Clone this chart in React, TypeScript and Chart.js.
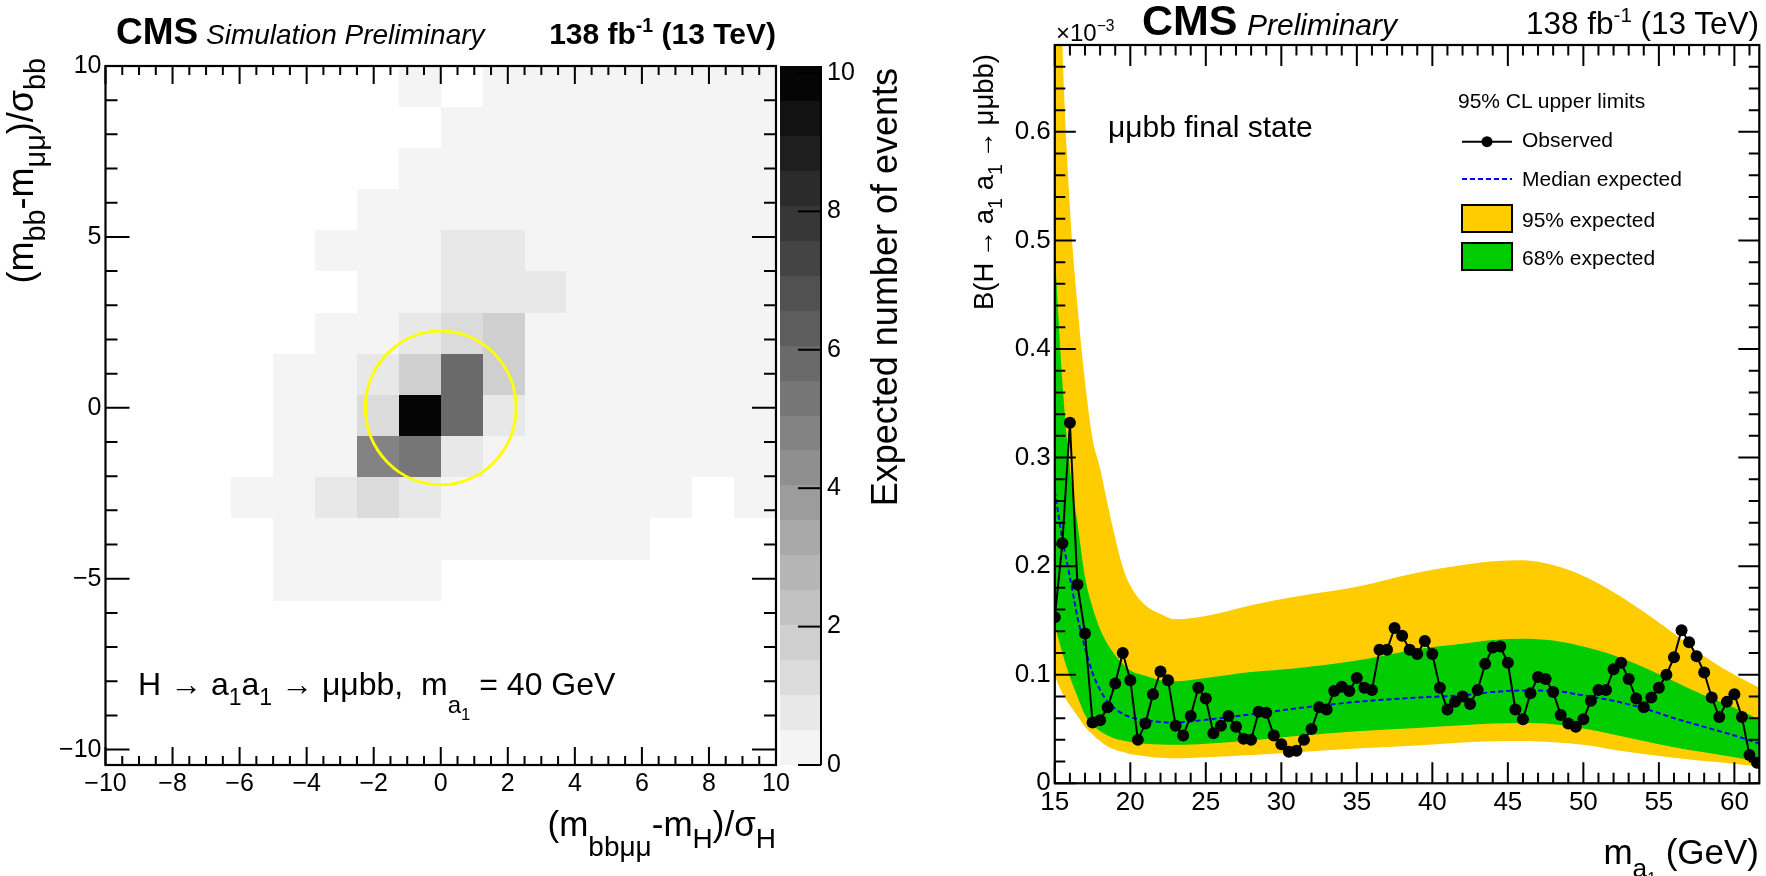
import React, { useEffect, useRef } from 'react';
import { Chart, registerables } from 'chart.js';

Chart.register(...registerables);

const FONT = '"Liberation Sans", Arial, Helvetica, sans-serif';

// ---------------- Left panel: expected events (2D histogram) ----------------
const xBinEdges = [-10, -8.75, -7.5, -6.25, -5, -3.75, -2.5, -1.25, 0, 1.25, 2.5, 3.75, 5, 6.25, 7.5, 8.75, 10];
const yBinEdges = [10, 8.8, 7.6, 6.39, 5.19, 3.99, 2.78, 1.58, 0.38, -0.83, -2.03, -3.23, -4.44, -5.64, -6.84, -8.05, -9.25, -10.45];
// rows from top (y = 10) to bottom, columns from x = -10 to x = 10
const expectedEvents = [
  [0, 0, 0, 0, 0, 0, 0, 0.25, 0, 0.25, 0.25, 0.25, 0.25, 0.25, 0.25, 0.25],
  [0, 0, 0, 0, 0, 0, 0, 0, 0.25, 0.25, 0.25, 0.25, 0.25, 0.25, 0.25, 0.25],
  [0, 0, 0, 0, 0, 0, 0, 0.25, 0.25, 0.25, 0.25, 0.25, 0.25, 0.25, 0.25, 0.25],
  [0, 0, 0, 0, 0, 0, 0.25, 0.25, 0.25, 0.25, 0.25, 0.25, 0.25, 0.25, 0.25, 0.25],
  [0, 0, 0, 0, 0, 0.25, 0.25, 0.25, 0.75, 0.75, 0.25, 0.25, 0.25, 0.25, 0.25, 0.25],
  [0, 0, 0, 0, 0, 0, 0.25, 0.25, 0.75, 0.75, 0.75, 0.25, 0.25, 0.25, 0.25, 0.25],
  [0, 0, 0, 0, 0, 0.25, 0.25, 0.75, 1.25, 1.75, 0.25, 0.25, 0.25, 0.25, 0.25, 0.25],
  [0, 0, 0, 0, 0.25, 0.25, 0.75, 1.75, 5.6, 1.75, 0.25, 0.25, 0.25, 0.25, 0.25, 0.25],
  [0, 0, 0, 0, 0.25, 0.25, 1.25, 9.9, 5.6, 0.75, 0.25, 0.25, 0.25, 0.25, 0.25, 0.25],
  [0, 0, 0, 0, 0.25, 0.25, 4.6, 5.1, 0.75, 0.25, 0.25, 0.25, 0.25, 0.25, 0.25, 0.25],
  [0, 0, 0, 0.25, 0.25, 0.75, 1.25, 0.75, 0.25, 0.25, 0.25, 0.25, 0.25, 0.25, 0, 0.25],
  [0, 0, 0, 0, 0.25, 0.25, 0.25, 0.25, 0.25, 0.25, 0.25, 0.25, 0.25, 0, 0, 0],
  [0, 0, 0, 0, 0.25, 0.25, 0.25, 0.25, 0, 0, 0, 0, 0, 0, 0, 0],
  [0, 0, 0, 0, 0, 0, 0, 0, 0, 0, 0, 0, 0, 0, 0, 0],
  [0, 0, 0, 0, 0, 0, 0, 0, 0, 0, 0, 0, 0, 0, 0, 0],
  [0, 0, 0, 0, 0, 0, 0, 0, 0, 0, 0, 0, 0, 0, 0, 0],
  [0, 0, 0, 0, 0, 0, 0, 0, 0, 0, 0, 0, 0, 0, 0, 0],
];
const leftXTicks = [-10, -8, -6, -4, -2, 0, 2, 4, 6, 8, 10];
const leftYTicks = [-10, -5, 0, 5, 10];
const zTicks = [0, 2, 4, 6, 8, 10];
const zMax = 10.1;
const signalCircleRadius = 2.25;
// grey palette levels (20 contours), light to dark
const grayLevels = [244, 232, 219, 207, 194, 181, 169, 156, 143, 131, 118, 106, 93, 81, 68, 55, 43, 30, 18, 5];

// ---------------- Right panel: 95% CL upper limits ----------------
const massPoints = [
  15, 15.5, 16, 16.5, 17, 17.5, 18, 18.5, 19, 19.5, 20, 20.5, 21, 21.5, 22, 22.5, 23, 23.5, 24, 24.5,
  25, 25.5, 26, 26.5, 27, 27.5, 28, 28.5, 29, 29.5, 30, 30.5, 31, 31.5, 32, 32.5, 33, 33.5, 34, 34.5,
  35, 35.5, 36, 36.5, 37, 37.5, 38, 38.5, 39, 39.5, 40, 40.5, 41, 41.5, 42, 42.5, 43, 43.5, 44, 44.5,
  45, 45.5, 46, 46.5, 47, 47.5, 48, 48.5, 49, 49.5, 50, 50.5, 51, 51.5, 52, 52.5, 53, 53.5, 54, 54.5,
  55, 55.5, 56, 56.5, 57, 57.5, 58, 58.5, 59, 59.5, 60, 60.5, 61, 61.5,
];
const observedLimit = [
  0.153, 0.221, 0.332, 0.183, 0.138, 0.056, 0.058, 0.070, 0.092, 0.120, 0.095, 0.040, 0.055, 0.082, 0.103, 0.095, 0.053, 0.044, 0.062, 0.088,
  0.078, 0.046, 0.053, 0.062, 0.052, 0.041, 0.040, 0.066, 0.065, 0.044, 0.036, 0.029, 0.030, 0.040, 0.050, 0.070, 0.068, 0.085, 0.089, 0.085,
  0.097, 0.088, 0.086, 0.123, 0.123, 0.143, 0.136, 0.123, 0.119, 0.131, 0.119, 0.088, 0.068, 0.075, 0.080, 0.073, 0.086, 0.110, 0.125, 0.126,
  0.111, 0.068, 0.059, 0.083, 0.098, 0.096, 0.084, 0.063, 0.055, 0.052, 0.059, 0.076, 0.086, 0.086, 0.105, 0.111, 0.096, 0.078, 0.070, 0.079,
  0.088, 0.100, 0.116, 0.141, 0.130, 0.117, 0.102, 0.079, 0.061, 0.075, 0.082, 0.061, 0.026, 0.019,
];
const bandMass = [15, 15.5, 16, 16.5, 17, 17.5, 18, 18.5, 19, 19.5, 20, 21, 22, 23, 25, 28, 31, 35, 39, 42, 44, 46, 48, 50, 52, 54, 56, 58, 60, 61.7];
const expected95Up = [0.95, 0.68, 0.53, 0.44, 0.37, 0.317, 0.29, 0.257, 0.226, 0.199, 0.182, 0.164, 0.156, 0.151, 0.154, 0.164, 0.172, 0.181, 0.194, 0.201, 0.2045, 0.2055, 0.201, 0.191, 0.176, 0.158, 0.138, 0.117, 0.1, 0.0877];
const expected68Up = [0.49, 0.37, 0.29, 0.24, 0.19, 0.162, 0.142, 0.128, 0.118, 0.11, 0.104, 0.099, 0.095, 0.094, 0.097, 0.1025, 0.106, 0.113, 0.1235, 0.1285, 0.132, 0.1332, 0.1315, 0.126, 0.118, 0.107, 0.094, 0.081, 0.0695, 0.0585];
const expectedMedian = [0.269, 0.225, 0.19, 0.153, 0.125, 0.1015, 0.086, 0.075, 0.0685, 0.064, 0.061, 0.058, 0.0565, 0.056, 0.0585, 0.0635, 0.069, 0.075, 0.079, 0.081, 0.084, 0.0855, 0.085, 0.081, 0.076, 0.069, 0.06, 0.052, 0.044, 0.0363];
const expected68Down = [0.146, 0.12, 0.098, 0.08, 0.063, 0.054, 0.048, 0.044, 0.041, 0.0395, 0.038, 0.0365, 0.0358, 0.0354, 0.0365, 0.0395, 0.0435, 0.048, 0.051, 0.0535, 0.055, 0.0555, 0.0545, 0.0505, 0.045, 0.039, 0.0333, 0.0285, 0.024, 0.02];
const expected95Down = [0.0985, 0.083, 0.072, 0.062, 0.052, 0.045, 0.039, 0.034, 0.031, 0.029, 0.027, 0.025, 0.0235, 0.023, 0.024, 0.026, 0.0285, 0.032, 0.0348, 0.0375, 0.0388, 0.039, 0.0378, 0.0355, 0.031, 0.027, 0.0235, 0.0205, 0.018, 0.0154];
const rightXTicks = [15, 20, 25, 30, 35, 40, 45, 50, 55, 60];
const rightYTicks = [0, 0.1, 0.2, 0.3, 0.4, 0.5, 0.6];

// ---------------- helpers ----------------
const fmtSigned = (v: number) => (v < 0 ? '\u2212' + Math.abs(v) : String(v));

function drawAxisTicks(ctx: CanvasRenderingContext2D, scale: any, area: any, horizontal: boolean,
  minorStep: number, majorStep: number, minorLen: number, majorLen: number) {
  const n0 = Math.ceil(scale.min / minorStep - 1e-6);
  const n1 = Math.floor(scale.max / minorStep + 1e-6);
  for (let n = n0; n <= n1; n++) {
    const v = n * minorStep;
    const r = v / majorStep;
    const len = Math.abs(r - Math.round(r)) < 1e-6 ? majorLen : minorLen;
    const p = scale.getPixelForValue(v);
    ctx.beginPath();
    if (horizontal) {
      ctx.moveTo(p, area.bottom); ctx.lineTo(p, area.bottom - len);
      ctx.moveTo(p, area.top); ctx.lineTo(p, area.top + len);
    } else {
      ctx.moveTo(area.left, p); ctx.lineTo(area.left + len, p);
      ctx.moveTo(area.right, p); ctx.lineTo(area.right - len, p);
    }
    ctx.stroke();
  }
}

const frameTicksPlugin = {
  id: 'frameTicks',
  afterDatasetsDraw(chart: any, _args: any, opts: any) {
    const { ctx, chartArea: a, scales } = chart;
    ctx.save();
    ctx.strokeStyle = '#000';
    ctx.lineWidth = 2;
    drawAxisTicks(ctx, scales.x, a, true, opts.xMinor, opts.xMajor, opts.xMinorLen, opts.xMajorLen);
    drawAxisTicks(ctx, scales.y, a, false, opts.yMinor, opts.yMajor, opts.yMinorLen, opts.yMajorLen);
    ctx.lineWidth = 2.2;
    ctx.strokeRect(a.left, a.top, a.right - a.left, a.bottom - a.top);
    ctx.restore();
  },
};

const grayColor = (k: number) => `rgb(${grayLevels[k]},${grayLevels[k]},${grayLevels[k]})`;

const heatmapPlugin = {
  id: 'heatmap',
  beforeDatasetsDraw(chart: any) {
    const { ctx, scales } = chart;
    const xs = scales.x, ys = scales.y;
    const nLevels = grayLevels.length;
    ctx.save();
    expectedEvents.forEach((row, r) => row.forEach((v, c) => {
      if (v <= 0) return;
      const k = Math.min(nLevels - 1, Math.floor(v / (zMax / nLevels)));
      const x0 = Math.round(xs.getPixelForValue(xBinEdges[c]));
      const x1 = Math.round(xs.getPixelForValue(xBinEdges[c + 1]));
      const y0 = Math.round(ys.getPixelForValue(yBinEdges[r]));
      const y1 = Math.round(ys.getPixelForValue(yBinEdges[r + 1]));
      ctx.fillStyle = grayColor(k);
      ctx.fillRect(x0, y0, x1 - x0, y1 - y0);
    }));
    const cx = xs.getPixelForValue(0), cy = ys.getPixelForValue(0);
    const rx = xs.getPixelForValue(signalCircleRadius) - cx;
    const ry = cy - ys.getPixelForValue(signalCircleRadius);
    ctx.beginPath();
    ctx.ellipse(cx, cy, rx, ry, 0, 0, Math.PI * 2);
    ctx.strokeStyle = '#ffff00';
    ctx.lineWidth = 3;
    ctx.stroke();
    ctx.restore();
  },
};

const colorbarPlugin = {
  id: 'colorbar',
  afterDraw(chart: any) {
    const { ctx, chartArea: a, scales } = chart;
    const zs = scales.z;
    const nLevels = grayLevels.length;
    const left = a.right + 4, right = a.right + 45;
    ctx.save();
    for (let k = 0; k < nLevels; k++) {
      const yb = Math.round(zs.getPixelForValue((k * zMax) / nLevels));
      const yt = Math.round(zs.getPixelForValue(((k + 1) * zMax) / nLevels));
      ctx.fillStyle = grayColor(k);
      ctx.fillRect(left, yt, right - left, yb - yt);
    }
    ctx.strokeStyle = '#000';
    ctx.lineWidth = 2;
    ctx.beginPath();
    ctx.moveTo(right, zs.getPixelForValue(zMax));
    ctx.lineTo(right, zs.getPixelForValue(0));
    ctx.stroke();
    zTicks.forEach((v) => {
      const p = zs.getPixelForValue(v);
      ctx.beginPath();
      ctx.moveTo(right, p);
      ctx.lineTo(right - 23, p);
      ctx.stroke();
    });
    ctx.restore();
  },
};

const tickFont = (size: number) => ({ family: FONT, size });

function makeLeftChart(canvas: HTMLCanvasElement) {
  return new Chart(canvas, {
    type: 'scatter',
    data: { datasets: [{ data: [], pointRadius: 0 }] },
    options: {
      animation: false,
      responsive: false,
      events: [],
      layout: { padding: { top: 58, left: 0, right: 0, bottom: 0 } },
      plugins: {
        legend: { display: false },
        tooltip: { enabled: false },
        frameTicks: { xMinor: 0.5, xMajor: 2, xMinorLen: 9, xMajorLen: 18, yMinor: 1, yMajor: 5, yMinorLen: 12, yMajorLen: 24 },
      } as any,
      scales: {
        x: {
          type: 'linear', position: 'bottom', min: -10, max: 10,
          grid: { display: false, drawTicks: false }, border: { display: false },
          afterFit: (s: any) => { s.height = 111; },
          afterBuildTicks: (s: any) => { s.ticks = leftXTicks.map((v) => ({ value: v })); },
          ticks: { font: tickFont(25), color: '#000', padding: 4, autoSkip: false, maxRotation: 0, callback: (v: any) => fmtSigned(Number(v)) },
        },
        y: {
          type: 'linear', position: 'left', min: -10.45, max: 10,
          grid: { display: false, drawTicks: false }, border: { display: false },
          afterFit: (s: any) => { s.width = 105.5; },
          afterBuildTicks: (s: any) => { s.ticks = leftYTicks.map((v) => ({ value: v })); },
          ticks: { font: tickFont(25), color: '#000', padding: 4, autoSkip: false, callback: (v: any) => fmtSigned(Number(v)) },
        },
        z: {
          axis: 'y', type: 'linear', position: 'right', min: 0, max: zMax,
          grid: { display: false, drawTicks: false }, border: { display: false },
          afterFit: (s: any) => { s.width = 104; },
          afterBuildTicks: (s: any) => { s.ticks = zTicks.map((v) => ({ value: v })); },
          ticks: { font: tickFont(25), color: '#000', padding: 51, autoSkip: false, callback: (v: any) => String(v) },
        },
      } as any,
    },
    plugins: [heatmapPlugin, frameTicksPlugin, colorbarPlugin],
  } as any);
}

function makeRightChart(canvas: HTMLCanvasElement) {
  const band = (vals: number[]) => bandMass.map((m, i) => ({ x: m, y: vals[i] }));
  const hidden = { borderWidth: 0, borderColor: 'rgba(0,0,0,0)', pointRadius: 0, cubicInterpolationMode: 'monotone' };
  return new Chart(canvas, {
    type: 'line',
    data: {
      datasets: [
        {
          label: 'Observed',
          data: massPoints.map((m, i) => ({ x: m, y: observedLimit[i] })),
          borderColor: '#000', borderWidth: 2, pointRadius: 6, pointBackgroundColor: '#000',
          pointBorderWidth: 0, tension: 0, fill: false,
        },
        {
          label: 'Median expected',
          data: band(expectedMedian),
          borderColor: '#0000ff', borderWidth: 2, borderDash: [5, 3], pointRadius: 0,
          cubicInterpolationMode: 'monotone', fill: false,
        },
        { label: '68% expected', data: band(expected68Up), ...hidden, backgroundColor: '#00cc00', fill: 3 },
        { label: '68% low', data: band(expected68Down), ...hidden, fill: false },
        { label: '95% expected', data: band(expected95Up), ...hidden, backgroundColor: '#ffcc00', fill: 5 },
        { label: '95% low', data: band(expected95Down), ...hidden, fill: false },
      ],
    },
    options: {
      animation: false,
      responsive: false,
      events: [],
      layout: { padding: { top: 45, left: 0, right: 6.7, bottom: 0 } },
      plugins: {
        legend: { display: false },
        tooltip: { enabled: false },
        frameTicks: { xMinor: 1, xMajor: 5, xMinorLen: 10.5, xMajorLen: 21, yMinor: 0.02, yMajor: 0.1, yMinorLen: 10.5, yMajorLen: 21 },
      } as any,
      scales: {
        x: {
          type: 'linear', position: 'bottom', min: 15, max: 61.65,
          grid: { display: false, drawTicks: false }, border: { display: false },
          afterFit: (s: any) => { s.height = 92.7; },
          afterBuildTicks: (s: any) => { s.ticks = rightXTicks.map((v) => ({ value: v })); },
          ticks: { font: tickFont(26), color: '#000', padding: 4, autoSkip: false, maxRotation: 0, callback: (v: any) => String(v) },
        },
        y: {
          type: 'linear', position: 'left', min: 0, max: 0.68,
          grid: { display: false, drawTicks: false }, border: { display: false },
          afterFit: (s: any) => { s.width = 154.8; },
          afterBuildTicks: (s: any) => { s.ticks = rightYTicks.map((v) => ({ value: v })); },
          ticks: { font: tickFont(26), color: '#000', padding: 4, autoSkip: false, callback: (v: any) => (Number(v) === 0 ? '0' : Number(v).toFixed(1)) },
        },
      } as any,
    },
    plugins: [frameTicksPlugin],
  } as any);
}

// ---------------- text helpers ----------------
const BASE = 0.8465; // baseline position inside a line box of line-height 1 (Liberation Sans)

function Txt(props: { x: number; y: number; size: number; align?: 'left' | 'right'; weight?: number; italic?: boolean; children: any }) {
  const { x, y, size, align = 'left', weight = 400, italic = false, children } = props;
  return (
    <div style={{
      position: 'absolute', left: x, top: y - BASE * size, fontSize: size, lineHeight: `${size}px`,
      fontFamily: FONT, fontWeight: weight, fontStyle: italic ? 'italic' : 'normal', whiteSpace: 'nowrap',
      transform: align === 'right' ? 'translateX(-100%)' : undefined, color: '#000',
    }}>{children}</div>
  );
}

// rotated text reading upwards; x = baseline x, yTop = where text ends (top)
function VTxt(props: { x: number; yTop: number; size: number; children: any }) {
  const { x, yTop, size, children } = props;
  const W = 700;
  return (
    <div style={{
      position: 'absolute', left: x - BASE * size, top: yTop + W, width: W, height: size,
      fontSize: size, lineHeight: `${size}px`, fontFamily: FONT, whiteSpace: 'nowrap', textAlign: 'right',
      transformOrigin: '0 0', transform: 'rotate(-90deg)', color: '#000',
    }}>{children}</div>
  );
}

const Sub = (p: { children: any; dy?: number; s?: number }) => (
  <span style={{ fontSize: `${p.s ?? 0.72}em`, position: 'relative', top: `${p.dy ?? 0.45}em` }}>{p.children}</span>
);
const Sup = (p: { children: any }) => (
  <span style={{ fontSize: '0.65em', position: 'relative', top: '-0.6em' }}>{p.children}</span>
);

export default function App() {
  const leftRef = useRef<HTMLCanvasElement>(null);
  const rightRef = useRef<HTMLCanvasElement>(null);

  useEffect(() => {
    const left = makeLeftChart(leftRef.current as HTMLCanvasElement);
    const right = makeRightChart(rightRef.current as HTMLCanvasElement);
    return () => { left.destroy(); right.destroy(); };
  }, []);

  const arrow = '\u2009\u2192\u2009';

  return (
    <div style={{ position: 'absolute', left: 0, top: 0, width: 1766, height: 876, background: '#fff', overflow: 'hidden' }}>
      <canvas ref={leftRef} width={880} height={876} style={{ position: 'absolute', left: 0, top: 0, width: 880, height: 876 }} />
      <canvas ref={rightRef} width={866} height={876} style={{ position: 'absolute', left: 900, top: 0, width: 866, height: 876 }} />

      {/* Left panel texts */}
      <Txt x={116} y={44} size={37} weight={700}>CMS</Txt>
      <Txt x={206} y={45} size={28} italic>Simulation Preliminary</Txt>
      <Txt x={776} y={44} size={30} weight={700} align="right">138 fb<Sup>-1</Sup> (13 TeV)</Txt>
      <VTxt x={33} yTop={58} size={36}>(m<Sub s={0.8} dy={0.4}>bb</Sub>-m<Sub s={0.8} dy={0.4}>μμ</Sub>)/σ<Sub s={0.8} dy={0.4}>bb</Sub></VTxt>
      <Txt x={776} y={836} size={35} align="right">(m<Sub s={0.8} dy={0.7}>bbμμ</Sub>-m<Sub s={0.8} dy={0.4}>H</Sub>)/σ<Sub s={0.8} dy={0.4}>H</Sub></Txt>
      <Txt x={138} y={695} size={32}>
        H → a<Sub>1</Sub>a<Sub>1</Sub> → μμbb,{'\u00a0\u00a0'}m<Sub dy={0.75} s={0.75}>a<Sub dy={0.4} s={0.7}>1</Sub></Sub> = 40 GeV
      </Txt>
      <VTxt x={897} yTop={68} size={36}>Expected number of events</VTxt>

      {/* Right panel texts */}
      <Txt x={1056} y={41} size={24}>×10<Sup>−3</Sup></Txt>
      <Txt x={1142} y={35} size={43} weight={700}>CMS</Txt>
      <Txt x={1247} y={35} size={30} italic>Preliminary</Txt>
      <Txt x={1759} y={35} size={31.5} align="right">138 fb<Sup>-1</Sup> (13 TeV)</Txt>
      <VTxt x={993} yTop={54} size={27.5}>B(H{arrow}a<Sub>1</Sub> a<Sub>1</Sub>{arrow}μμbb)</VTxt>
      <Txt x={1759} y={864} size={35} align="right">m<Sub dy={0.5} s={0.75}>a<Sub dy={0.4} s={0.6}>1</Sub></Sub> (GeV)</Txt>
      <Txt x={1108} y={137} size={30}>μμbb final state</Txt>

      {/* Legend */}
      <Txt x={1458} y={108} size={21}>95% CL upper limits</Txt>
      <Txt x={1522} y={147} size={21}>Observed</Txt>
      <Txt x={1522} y={186} size={21}>Median expected</Txt>
      <Txt x={1522} y={227} size={21}>95% expected</Txt>
      <Txt x={1522} y={265} size={21}>68% expected</Txt>
      <svg width={1766} height={876} style={{ position: 'absolute', left: 0, top: 0, pointerEvents: 'none' }}>
        <line x1={1462} y1={141.7} x2={1512} y2={141.7} stroke="#000" strokeWidth={2} />
        <circle cx={1487} cy={141.7} r={5.5} fill="#000" />
        <line x1={1462} y1={179} x2={1512} y2={179} stroke="#0000ff" strokeWidth={2} strokeDasharray="5,3" />
        <rect x={1462} y={205} width={50} height={27} fill="#ffcc00" stroke="#000" strokeWidth={2} />
        <rect x={1462} y={243} width={50} height={27} fill="#00cc00" stroke="#000" strokeWidth={2} />
      </svg>
    </div>
  );
}
